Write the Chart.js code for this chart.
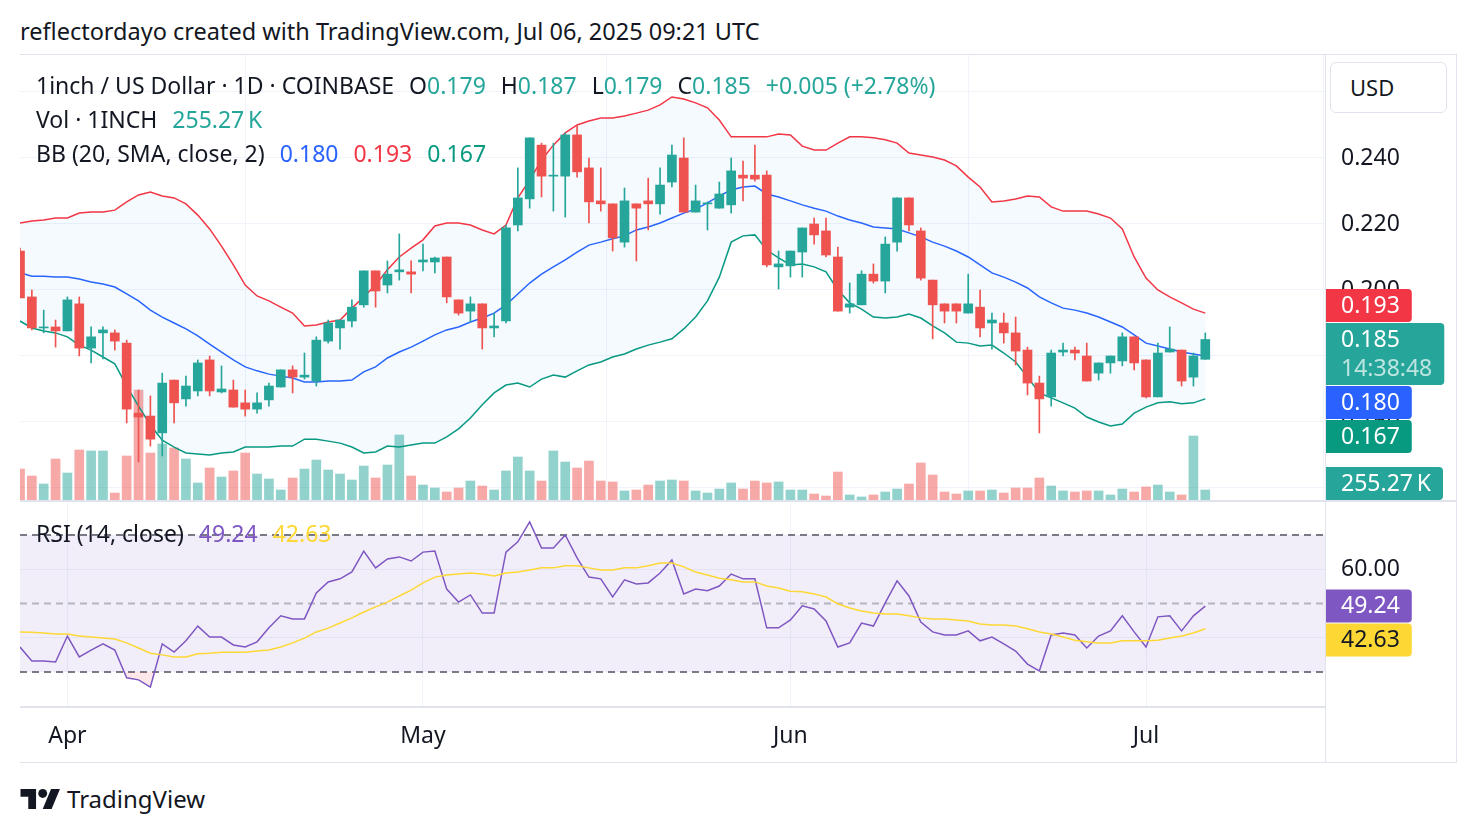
<!DOCTYPE html>
<html>
<head>
<meta charset="utf-8">
<title>1inch / US Dollar</title>
<script src="https://cdn.jsdelivr.net/npm/chart.js@4.4.1/dist/chart.umd.min.js"></script>
<style>
  body { margin: 0; background: #fff; width: 1476px; height: 832px; overflow: hidden; position: relative;
         font-family: 'Noto Sans', sans-serif; color: #131722; }
  canvas { position: absolute; }
  #title { position: absolute; left: 20px; top: 15px; font-size: 23.5px; line-height: 32px; white-space: nowrap; }
  .legend { position: absolute; left: 36px; font-size: 23px; line-height: 28px; white-space: nowrap; }
  .legend .gap { margin-left: 15px; }
  .line { position: absolute; background: #E0E3EB; }
  #usd { position: absolute; left: 1330px; top: 62px; width: 117px; height: 51px; box-sizing: border-box;
         border: 1px solid #E0E3EB; border-radius: 6px; background: #fff; font-size: 22px; line-height: 49px; padding-left: 19px; }
  #logo { position: absolute; left: 20px; top: 782px; display: flex; align-items: center; gap: 6px; font-size: 24px; }
</style>
</head>
<body>
<div id="title">reflectordayo created with TradingView.com, Jul 06, 2025 09:21 UTC</div>

<canvas id="price" width="1436" height="445" style="left:20px;top:55px"></canvas>
<canvas id="rsi" width="1436" height="260" style="left:20px;top:502px"></canvas>

<div class="line" style="left:20px;top:54px;width:1437px;height:1px"></div>
<div class="line" style="left:1456px;top:54px;width:1px;height:709px"></div>
<div class="line" style="left:20px;top:762px;width:1437px;height:1px"></div>
<div class="line" style="left:20px;top:500px;width:1437px;height:2px"></div>
<div class="line" style="left:1325px;top:54px;width:1px;height:709px"></div>

<div class="legend" style="top:71px">1inch / US Dollar · 1D · COINBASE<span class="gap">O<span id="lo"></span></span><span class="gap">H<span id="lh"></span></span><span class="gap">L<span id="ll"></span></span><span class="gap">C<span id="lc"></span></span><span class="gap" id="lchg"></span></div>
<div class="legend" style="top:105px">Vol · 1INCH<span class="gap" id="lvol"></span></div>
<div class="legend" style="top:139px">BB (20, SMA, close, 2)<span class="gap" id="lbasis" style="color:#2962FF"></span><span class="gap" id="lupper" style="color:#F23645"></span><span class="gap" id="llower" style="color:#089981"></span></div>
<div class="legend" style="top:519px">RSI (14, close)<span class="gap" id="lrsi" style="color:#7E57C2"></span><span class="gap" id="lrsima" style="color:#FDD835"></span></div>

<div id="usd">USD</div>
<div id="logo">
  <svg width="41" height="20" viewBox="0 4 36 18"><path d="M14 22H7V11H0V4h14v18zM28 22h-8l7.5-18h8L28 22z" fill="#131722"/><circle cx="20" cy="8" r="4" fill="#131722"/></svg>
  <span>TradingView</span>
</div>

<script>
// daily candles, 2025-03-28 .. 2025-07-06 (index 0 = Mar 28)
const open = [
  .2118,.1979,.1885,.1888,.1876,.1958,.1824,.1870,.1870,.1839,
  .1627,.1618,.1567,.1727,.1670,.1694,.1788,.1691,.1697,.1658,
  .1639,.1667,.1706,.1758,.1736,.1724,.1845,.1885,.1906,.1955,
  .2058,.2015,.2055,.2055,.2085,.2085,.2100,.1970,.1936,.1958,
  .1885,.1906,.2197,.2276,.2439,.2345,.2345,.2470,.2370,.2270,
  .2261,.2145,.2261,.2270,.2261,.2327,.2400,.2236,.2261,.2248,
  .2258,.2348,.2348,.2348,.2070,.2073,.2115,.2200,.2179,.2100,
  .1948,.1955,.2048,.2027,.2145,.2279,.2179,.2030,.1958,.1958,
  .1930,.1948,.1900,.1900,.1870,.1818,.1718,.1676,.1812,.1818,
  .1800,.1748,.1779,.1785,.1858,.1788,.1676,.1812,.1818,.1736,
  .179];
const high = [
  .2127,.2000,.1939,.1909,.1979,.1979,.1888,.1888,.1879,.1848,
  .1697,.1679,.1748,.1727,.1739,.1788,.1800,.1770,.1727,.1697,
  .1688,.1718,.1758,.1770,.1809,.1858,.1909,.1909,.1970,.2058,
  .2058,.2088,.2170,.2088,.2139,.2100,.2100,.1970,.1979,.1958,
  .1930,.2197,.2370,.2461,.2445,.2445,.2476,.2497,.2400,.2370,
  .2261,.2309,.2261,.2339,.2370,.2439,.2461,.2318,.2267,.2327,
  .2400,.2391,.2439,.2361,.2118,.2118,.2188,.2218,.2218,.2130,
  .2021,.2058,.2079,.2161,.2279,.2279,.2188,.2030,.1958,.1958,
  .2048,.2000,.1930,.1930,.1918,.1827,.1739,.1818,.1839,.1827,
  .1839,.1779,.1800,.1870,.1858,.1788,.1839,.1888,.1818,.1809,
  .187];
const low = [
  .1976,.1879,.1870,.1827,.1876,.1800,.1779,.1791,.1818,.1597,
  .1479,.1527,.1497,.1597,.1648,.1679,.1679,.1688,.1645,.1618,
  .1627,.1648,.1706,.1688,.1730,.1709,.1839,.1821,.1888,.1948,
  .1948,.1991,.2030,.1991,.2058,.2052,.1961,.1924,.1903,.1821,
  .1858,.1900,.2179,.2248,.2282,.2239,.2221,.2342,.2203,.2239,
  .2118,.2130,.2088,.2182,.2230,.2312,.2236,.2236,.2182,.2248,
  .2233,.2270,.2330,.2070,.2003,.2039,.2039,.2139,.2100,.1936,
  .1930,.1955,.2021,.1991,.2118,.2179,.2030,.1852,.1900,.1900,
  .1930,.1858,.1821,.1839,.1773,.1682,.1567,.1648,.1800,.1788,
  .1724,.1727,.1748,.1770,.1758,.1673,.1676,.1812,.1709,.1709,
  .179];
const close = [
  .1976,.1885,.1888,.1876,.1970,.1824,.1858,.1879,.1845,.1639,
  .1615,.1548,.1718,.1658,.1709,.1779,.1694,.1700,.1645,.1639,
  .1658,.1709,.1758,.1736,.1742,.1848,.1900,.1909,.1948,.2058,
  .1997,.2048,.2061,.2048,.2091,.2097,.1979,.1930,.1958,.1885,
  .1891,.2188,.2279,.2461,.2345,.2348,.2470,.2358,.2267,.2261,
  .2158,.2270,.2248,.2261,.2318,.2409,.2236,.2270,.2264,.2291,
  .2361,.2339,.2336,.2076,.2079,.2118,.2188,.2167,.2106,.1936,
  .1958,.2048,.2027,.2139,.2279,.2197,.2036,.1955,.1936,.1936,
  .1958,.1885,.1909,.1870,.1815,.1718,.1670,.1809,.1818,.1809,
  .1724,.1779,.1800,.1858,.1779,.1676,.1809,.1821,.1724,.1800,
  .185];
// volume in thousands of 1INCH
const volume = [
  790,612,408,1045,688,1275,1250,1250,178,1122,
  2805,1198,1428,1326,1045,434,816,586,740,1198,
  663,536,255,561,790,1020,765,663,510,867,
  561,892,1658,612,382,306,204,306,484,357,
  255,740,1096,740,484,1250,969,816,994,484,
  459,230,255,382,484,510,484,230,178,280,
  434,280,484,434,459,255,255,153,102,714,
  128,77,128,204,280,408,944,638,204,153,
  230,230,255,178,306,306,561,357,230,204,
  230,230,128,280,204,332,382,204,128,1632,
  255.27];

// Bollinger Bands (20, SMA, close, 2)
const bbUpper = [
  .2203,.2209,.2212,.2218,.2218,.2233,.2236,.2236,.2242,.2267,
  .2288,.2297,.2285,.2279,.2261,.2227,.2185,.2133,.2076,.2015,
  .1982,.1967,.1948,.1930,.1891,.1894,.1903,.1909,.1945,.1979,
  .2015,.2061,.2100,.2127,.2152,.2194,.2203,.2203,.2197,.2182,
  .2170,.2197,.2279,.2333,.2394,.2439,.2476,.2500,.2512,.2521,
  .2521,.2527,.2536,.2545,.2561,.2585,.2579,.2567,.2552,.2515,
  .2464,.2464,.2464,.2464,.2473,.2470,.2436,.2424,.2424,.2445,
  .2464,.2464,.2461,.2455,.2445,.2415,.2409,.2403,.2394,.2376,
  .2342,.2312,.2267,.2270,.2276,.2285,.2282,.2252,.2239,.2239,
  .2239,.2230,.2218,.2185,.2100,.2036,.2000,.1979,.1961,.1942,
  .193];
const bbBasis = [
  .2052,.2042,.2042,.2039,.2039,.2033,.2024,.2018,.2009,.1988,
  .1967,.1939,.1918,.1900,.1882,.1861,.1836,.1812,.1788,.1767,
  .1755,.1745,.1739,.1733,.1721,.1721,.1724,.1724,.1727,.1752,
  .1767,.1794,.1812,.1827,.1845,.1864,.1879,.1888,.1903,.1915,
  .1930,.1955,.1988,.2021,.2048,.2070,.2091,.2115,.2136,.2145,
  .2155,.2164,.2182,.2191,.2203,.2218,.2233,.2245,.2264,.2285,
  .2303,.2312,.2315,.2291,.2282,.2270,.2258,.2248,.2239,.2224,
  .2212,.2203,.2191,.2188,.2185,.2173,.2161,.2145,.2133,.2118,
  .2100,.2076,.2052,.2039,.2024,.2006,.1979,.1961,.1945,.1939,
  .1930,.1918,.1903,.1888,.1864,.1839,.1830,.1821,.1812,.1806,
  .180];
const bbLower = [
  .1906,.1885,.1876,.1870,.1858,.1833,.1818,.1797,.1776,.1709,
  .1648,.1591,.1545,.1524,.1506,.1503,.1500,.1506,.1509,.1524,
  .1524,.1524,.1527,.1527,.1548,.1548,.1542,.1536,.1524,.1506,
  .1509,.1527,.1524,.1530,.1536,.1536,.1555,.1579,.1612,.1652,
  .1688,.1712,.1718,.1706,.1730,.1742,.1736,.1755,.1773,.1782,
  .1797,.1806,.1821,.1833,.1842,.1852,.1882,.1918,.1967,.2039,
  .2145,.2164,.2167,.2121,.2097,.2076,.2079,.2070,.2055,.2000,
  .1961,.1942,.1918,.1915,.1918,.1927,.1915,.1891,.1870,.1842,
  .1839,.1830,.1833,.1809,.1782,.1736,.1688,.1673,.1658,.1642,
  .1615,.1600,.1588,.1594,.1627,.1645,.1658,.1661,.1655,.1658,
  .167];

// RSI (14, close) and its moving average
const rsi = [
  37.3,33.2,33.2,32.9,40.5,34.4,36.4,38.2,36.4,28.3,
  27.7,25.6,38.2,35.8,39.1,43.4,40.2,40.2,37.9,37.3,
  38.8,42.9,46.4,45.5,45.5,53.1,56.3,57.2,59.2,65.3,
  60.4,63.0,63.6,62.4,65.0,65.3,54.2,50.4,52.5,47.2,
  47.2,65.0,68.0,73.8,66.2,66.2,70.0,63.3,57.7,57.2,
  51.9,56.9,55.7,56.0,58.9,62.7,52.8,54.2,53.7,55.1,
  58.6,57.2,57.2,42.9,42.9,45.2,49.3,48.4,44.9,37.3,
  38.5,44.3,43.4,50.2,56.6,52.2,44.6,41.7,40.8,40.8,
  42.0,39.1,40.2,38.2,36.1,32.3,30.3,40.8,41.4,40.8,
  37.0,40.5,42.0,46.4,41.7,37.3,46.1,46.4,42.0,46.4,
  49.24];
const rsiMa = [
  41.7,41.6,41.4,41.1,41.1,40.5,40.2,39.9,39.6,38.5,
  37.0,35.5,35.0,34.4,34.4,35.3,35.5,35.8,35.8,35.8,
  36.1,36.4,37.3,38.5,39.9,41.7,42.8,44.3,45.8,47.5,
  49.0,50.4,52.2,53.9,56.0,57.7,58.3,58.6,58.9,58.6,
  58.0,58.9,59.2,59.8,60.4,60.4,61.0,61.0,60.4,59.8,
  59.8,60.4,60.4,61.0,61.8,61.8,60.7,59.2,58.3,57.4,
  56.9,56.3,56.3,55.1,54.5,53.6,53.4,52.8,51.9,49.9,
  48.7,47.8,47.2,46.9,46.9,46.4,45.8,45.5,45.5,45.2,
  44.9,44.0,43.7,43.7,43.4,42.6,41.7,41.1,40.2,39.3,
  38.8,38.5,38.5,39.1,39.1,39.1,39.3,39.9,40.5,41.4,
  42.63];

// time axis: month starts as candle index
const monthTicks = [4, 34, 65, 95];
const monthLabels = ['Apr', 'May', 'Jun', 'Jul'];
const priceTicks = [0.14, 0.16, 0.18, 0.20, 0.22, 0.24, 0.26];
const rsiTicks = [40, 60];
const rsiLevels = { upper: 70, middle: 50, lower: 30 };
const countdown = '14:38:48';

// view window (visible bars + right margin)
const viewMin = 0, viewMax = 110.1;
const priceMin = 0.13636, priceMax = 0.27121;
const volMax = 11350;
const rsiMin = 19.78, rsiMax = 79.63;

const FONT = "'Noto Sans', sans-serif";
const FS = 23;
const TXT = '#131722';
const GRID = '#F0F3FA';
const UP = '#26A69A', DOWN = '#EF5350';

Chart.defaults.font.family = FONT;
Chart.defaults.color = TXT;

const last = a => a[a.length - 1];
const idx = close.map((_, i) => i);
const pts = arr => arr.map((v, i) => ({ x: i, y: v }));
const isUp = idx.map(i => close[i] >= open[i]);
const candleColors = isUp.map(u => u ? UP : DOWN);
const volColors = isUp.map(u => u ? 'rgba(38,166,154,0.5)' : 'rgba(239,83,80,0.5)');

// legend texts
const fmt3 = v => v.toFixed(3);
const chg = last(close) - close[close.length - 2];
const setTxt = (id, t, c) => { const e = document.getElementById(id); e.textContent = t; if (c) e.style.color = c; };
setTxt('lo', fmt3(last(open)), UP);
setTxt('lh', fmt3(last(high)), UP);
setTxt('ll', fmt3(last(low)), UP);
setTxt('lc', fmt3(last(close)), UP);
setTxt('lchg', `+${chg.toFixed(3)} (+${(chg / close[close.length - 2] * 100).toFixed(2)}%)`, UP);
setTxt('lvol', `${last(volume).toFixed(2)}\u2009K`, UP);
setTxt('lbasis', fmt3(last(bbBasis)));
setTxt('lupper', fmt3(last(bbUpper)));
setTxt('llower', fmt3(last(bbLower)));
setTxt('lrsi', last(rsi).toFixed(2));
setTxt('lrsima', last(rsiMa).toFixed(2));

// price-scale labels on the right, pushed apart so they do not overlap
const tagPlugin = {
  id: 'tags',
  afterDraw(chart, args, opts) {
    const ctx = chart.ctx, a = chart.chartArea;
    ctx.save();
    ctx.font = `${FS}px ${FONT}`;
    ctx.textBaseline = 'middle';
    let items = opts.items.map(t => {
      const y = chart.scales[t.axis].getPixelForValue(t.value);
      const h = t.sub ? 62 : 33;
      return { ...t, h, top: y - 16.5 };
    });
    const mainIdx = items.findIndex(t => t.fixed);
    const sorted = items.slice().sort((p, q) => p.top - q.top);
    const m = sorted.indexOf(items[mainIdx]);
    for (let i = m + 1; i < sorted.length; i++) {
      const prev = sorted[i - 1];
      sorted[i].top = Math.max(sorted[i].top, prev.top + prev.h + 1);
    }
    for (let i = m - 1; i >= 0; i--) {
      const next = sorted[i + 1];
      sorted[i].top = Math.min(sorted[i].top, next.top - sorted[i].h - 1);
    }
    sorted.forEach(t => {
      t.top = Math.min(t.top, a.bottom - t.h);
      const w = Math.max(ctx.measureText(t.text).width, t.sub ? ctx.measureText(t.sub).width : 0) + 27;
      const x = a.right + 1;
      ctx.fillStyle = t.color;
      ctx.beginPath();
      ctx.roundRect(x, t.top, w, t.h, [0, 4, 4, 0]);
      ctx.fill();
      ctx.fillStyle = t.textColor || '#fff';
      ctx.fillText(t.text, x + 15, t.top + 17);
      if (t.sub) {
        ctx.fillStyle = 'rgba(255,255,255,0.7)';
        ctx.fillText(t.sub, x + 15, t.top + 46);
      }
    });
    ctx.restore();
  }
};

// RSI background band and dashed level lines
const rsiBands = {
  id: 'rsiBands',
  beforeDatasetsDraw(chart) {
    const { ctx, chartArea: a, scales: { y } } = chart;
    const yu = y.getPixelForValue(rsiLevels.upper);
    const ym = y.getPixelForValue(rsiLevels.middle);
    const yl = y.getPixelForValue(rsiLevels.lower);
    ctx.save();
    ctx.fillStyle = 'rgba(126,87,194,0.1)';
    ctx.fillRect(a.left, yu, a.width, yl - yu);
    ctx.setLineDash([7, 5]);
    const dash = (py, color, w) => {
      ctx.strokeStyle = color; ctx.lineWidth = w;
      ctx.beginPath(); ctx.moveTo(a.left, py); ctx.lineTo(a.right, py); ctx.stroke();
    };
    dash(yu, '#787B86', 2);
    dash(yl, '#787B86', 2);
    dash(ym, 'rgba(120,123,134,0.5)', 2);
    ctx.restore();
  }
};

const monthAxisTicks = s => { s.ticks = monthTicks.map(v => ({ value: v })); };
const noPadX = h => s => { s.height = h; s.paddingLeft = 0; s.paddingRight = 0; };
const noPadY = s => { s.width = 131; s.paddingTop = 0; s.paddingBottom = 0; };

new Chart(document.getElementById('price'), {
  type: 'bar',
  data: {
    datasets: [
      { type: 'bar', data: idx.map(i => ({ x: i, y: [open[i], close[i]] })), backgroundColor: candleColors,
        barThickness: 9, minBarLength: 1, grouped: false, order: 0 },
      { type: 'bar', data: idx.map(i => ({ x: i, y: [low[i], high[i]] })), backgroundColor: candleColors,
        barThickness: 1, minBarLength: 1, grouped: false, order: 1 },
      { type: 'line', data: pts(bbUpper), borderColor: '#F23645', borderWidth: 1.5, pointRadius: 0,
        fill: '+2', backgroundColor: 'rgba(33,150,243,0.05)', order: 2 },
      { type: 'line', data: pts(bbBasis), borderColor: '#2962FF', borderWidth: 1.5, pointRadius: 0, fill: false, order: 2 },
      { type: 'line', data: pts(bbLower), borderColor: '#089981', borderWidth: 1.5, pointRadius: 0, fill: false, order: 2 },
      { type: 'bar', data: idx.map(i => ({ x: i, y: volume[i] })), backgroundColor: volColors,
        barThickness: 9, grouped: false, yAxisID: 'vol', order: 3 }
    ]
  },
  options: {
    responsive: false,
    animation: false,
    layout: { padding: 0 },
    plugins: {
      legend: { display: false },
      tooltip: { enabled: false },
      tags: {
        items: [
          { axis: 'y', value: last(close), text: fmt3(last(close)), sub: countdown, color: UP, fixed: true },
          { axis: 'y', value: last(bbUpper), text: fmt3(last(bbUpper)), color: '#F23645' },
          { axis: 'y', value: last(bbBasis), text: fmt3(last(bbBasis)), color: '#2962FF' },
          { axis: 'y', value: last(bbLower), text: fmt3(last(bbLower)), color: '#089981' },
          { axis: 'vol', value: last(volume), text: `${last(volume).toFixed(2)}\u2009K`, color: UP }
        ]
      }
    },
    scales: {
      x: { type: 'linear', min: viewMin, max: viewMax, offset: false, afterBuildTicks: monthAxisTicks,
           ticks: { display: false }, grid: { color: GRID, drawTicks: false }, border: { display: false },
           afterFit: noPadX(0) },
      y: { position: 'right', min: priceMin, max: priceMax,
           afterBuildTicks: s => { s.ticks = priceTicks.map(v => ({ value: v })); },
           ticks: { color: TXT, font: { size: FS }, padding: 16, callback: v => v.toFixed(3) },
           grid: { color: GRID, drawTicks: false }, border: { display: false },
           afterFit: noPadY },
      vol: { display: false, min: 0, max: volMax }
    }
  },
  plugins: [tagPlugin]
});

new Chart(document.getElementById('rsi'), {
  type: 'line',
  data: {
    datasets: [
      { data: pts(rsi), borderColor: '#7E57C2', borderWidth: 1.5, pointRadius: 0, order: 1,
        fill: { target: { value: rsiLevels.lower }, above: 'rgba(0,0,0,0)', below: 'rgba(242,54,69,0.12)' } },
      { data: pts(rsiMa), borderColor: '#FDD835', borderWidth: 1.5, pointRadius: 0, fill: false, order: 0 }
    ]
  },
  options: {
    responsive: false,
    animation: false,
    layout: { padding: 0 },
    plugins: {
      legend: { display: false },
      tooltip: { enabled: false },
      tags: {
        items: [
          { axis: 'y', value: last(rsi), text: last(rsi).toFixed(2), color: '#7E57C2', fixed: true },
          { axis: 'y', value: last(rsiMa), text: last(rsiMa).toFixed(2), color: '#FDD835', textColor: TXT }
        ]
      }
    },
    scales: {
      x: { type: 'linear', min: viewMin, max: viewMax, offset: false, afterBuildTicks: monthAxisTicks,
           ticks: { color: TXT, font: { size: FS }, padding: 16, maxRotation: 0, autoSkip: false,
                    callback: v => monthLabels[monthTicks.indexOf(v)] },
           grid: { color: GRID, drawTicks: false },
           border: { display: true, color: '#E0E3EB', width: 2 },
           afterFit: noPadX(55) },
      y: { position: 'right', min: rsiMin, max: rsiMax,
           afterBuildTicks: s => { s.ticks = rsiTicks.map(v => ({ value: v })); },
           ticks: { color: TXT, font: { size: FS }, padding: 16, callback: v => v.toFixed(2) },
           grid: { color: GRID, drawTicks: false }, border: { display: false },
           afterFit: noPadY }
    }
  },
  plugins: [rsiBands, tagPlugin]
});
</script>
</body>
</html>
